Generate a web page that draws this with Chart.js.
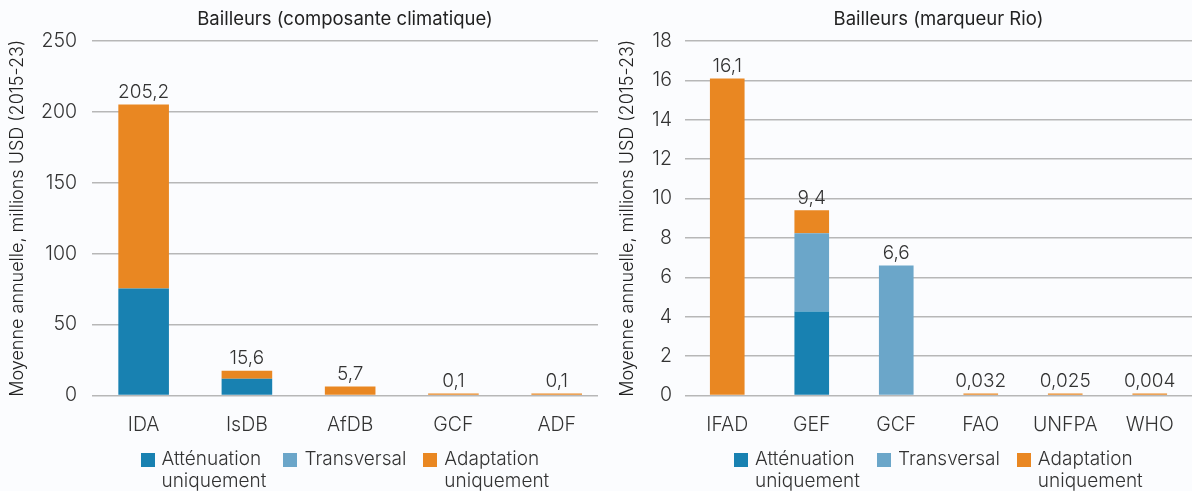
<!DOCTYPE html>
<html>
<head>
<meta charset="utf-8">
<script src="https://cdn.jsdelivr.net/npm/chart.js@4.4.1/dist/chart.umd.min.js"></script>
<style>
  html, body { margin: 0; padding: 0; background: #fbfcfe; }
  body { width: 1192px; height: 491px; position: relative; overflow: hidden; font-family: Inter, "Noto Sans", sans-serif; }
  .panel { position: absolute; top: 0; height: 491px; }
  #left { left: 0; width: 598px; }
  #right { left: 596px; width: 596px; }
  .legend { position: absolute; top: 448px; display: flex; justify-content: center; font-size: 19px; font-weight: 300; color: #333; line-height: 22px; white-space: nowrap; }
  .legend .item { display: flex; align-items: flex-start; margin-right: 17px; }
  .legend .item:last-child { margin-right: 0; }
  .legend .sw { width: 14px; height: 14px; margin: 5px 7px 0 0; flex: none; }
</style>
</head>
<body>
<div class="panel" id="left"><canvas id="chartL"></canvas><div class="legend" id="legL"></div></div>
<div class="panel" id="right"><canvas id="chartR"></canvas><div class="legend" id="legR"></div></div>
<script>
// Données - graphique de gauche (composante climatique)
const labelsL = ['IDA', 'IsDB', 'AfDB', 'GCF', 'ADF'];
const attenL = [75.4, 11.8, null, null, null];
const transL = [null, null, null, null, null];
const adaptL = [129.8, 5.6, 6.4, 0.1, 0.1];
const totalsL = ['205,2', '15,6', '5,7', '0,1', '0,1'];

// Données - graphique de droite (marqueur Rio)
const labelsR = ['IFAD', 'GEF', 'GCF', 'FAO', 'UNFPA', 'WHO'];
const attenR = [null, 4.26, null, null, null, null];
const transR = [null, 3.98, 6.6, null, null, null];
const adaptR = [16.1, 1.16, null, 0.032, 0.025, 0.004];
const totalsR = ['16,1', '9,4', '6,6', '0,032', '0,025', '0,004'];

const seriesNames = [['Atténuation', 'uniquement'], ['Transversal'], ['Adaptation', 'uniquement']];
const COLORS = ['#1881b1', '#6ba6c9', '#e98722'];
const FONT = 'Inter, "Noto Sans", sans-serif';
const yTitle = 'Moyenne annuelle, millions USD (2015-23)';

// titre centré sur la zone du graphique + étiquettes de total
const labelsPlugin = {
  id: 'labels',
  afterDatasetsDraw(chart, args, opts) {
    const ctx = chart.ctx;
    const area = chart.chartArea;
    ctx.save();
    ctx.textAlign = 'center';
    ctx.textBaseline = 'middle';
    ctx.fillStyle = '#222';
    ctx.font = '400 18.5px ' + FONT;
    ctx.fillText(opts.title, (area.left + area.right) / 2, 19);

    ctx.font = '300 19px ' + FONT;
    ctx.fillStyle = '#333';
    ctx.textBaseline = 'bottom';
    opts.values.forEach((txt, i) => {
      let top = Infinity, x = null;
      chart.data.datasets.forEach((ds, d) => {
        if (ds.data[i] == null) return;
        const el = chart.getDatasetMeta(d).data[i];
        top = Math.min(top, el.y);
        x = el.x;
      });
      if (x !== null) ctx.fillText(txt, x, top - 3);
    });
    ctx.restore();
  }
};

function makeChart(id, legId, labels, atten, trans, adapt, totals, cfg) {
  const ctx = document.getElementById(id).getContext('2d');
  const dsBase = { barPercentage: cfg.barPct, categoryPercentage: 1, borderWidth: 0 };
  const chart = new Chart(ctx, {
    type: 'bar',
    data: {
      labels,
      datasets: [
        { ...dsBase, label: seriesNames[0].join(' '), data: atten, backgroundColor: COLORS[0] },
        { ...dsBase, label: seriesNames[1].join(' '), data: trans, backgroundColor: COLORS[1] },
        { ...dsBase, label: seriesNames[2].join(' '), data: adapt, backgroundColor: COLORS[2], minBarLength: 2 }
      ]
    },
    options: {
      responsive: true,
      maintainAspectRatio: false,
      animation: false,
      layout: { padding: { top: 41, right: 0, bottom: 55.5, left: 0 } },
      scales: {
        x: {
          stacked: true,
          grid: { display: false },
          border: { display: false },
          ticks: { color: '#333', font: { family: FONT, size: 19.5, weight: 300 }, padding: 10 },
          // la zone de tracé à gauche est un peu plus étroite que 5 catégories pleines
          afterBuildTicks(scale) { scale._valueRange = cfg.range; },
          afterFit(scale) { scale.height = 40; }
        },
        y: {
          stacked: true,
          min: 0,
          max: cfg.yMax,
          ticks: { stepSize: cfg.step, color: '#333', font: { family: FONT, size: 19.5, weight: 300 }, padding: cfg.tickPad },
          grid: { color: '#b7b7b7', lineWidth: 1.5, drawTicks: false },
          border: { display: false },
          title: { display: true, text: yTitle, color: '#222', font: { family: FONT, size: 18, weight: 300 }, padding: { top: cfg.titlePad, bottom: 0 } },
          afterFit(scale) { scale.width = cfg.yWidth; }
        }
      },
      plugins: {
        legend: { display: false },
        tooltip: { enabled: false },
        labels: { values: totals, title: cfg.title }
      }
    },
    plugins: [labelsPlugin]
  });

  // légende HTML (libellés sur deux lignes), centrée sous la zone de tracé
  const leg = document.getElementById(legId);
  seriesNames.forEach((name, i) => {
    const item = document.createElement('div');
    item.className = 'item';
    item.innerHTML = '<span class="sw" style="background:' + COLORS[i] + '"></span><span>' + name.join('<br>') + '</span>';
    leg.appendChild(item);
  });
  const a = chart.chartArea;
  leg.style.left = ((a.left + a.right) / 2 - leg.offsetWidth / 2) + 'px';
  return chart;
}

makeChart('chartL', 'legL', labelsL, attenL, transL, adaptL, totalsL,
  { title: 'Bailleurs (composante climatique)', yMax: 250, step: 50, barPct: 0.49, range: 4.9, yWidth: 92, tickPad: 15, titlePad: 7 });
makeChart('chartR', 'legR', labelsR, attenR, transR, adaptR, totalsR,
  { title: 'Bailleurs (marqueur Rio)', yMax: 18, step: 2, barPct: 0.41, range: 6, yWidth: 89, tickPad: 13, titlePad: 21 });
</script>
</body>
</html>
